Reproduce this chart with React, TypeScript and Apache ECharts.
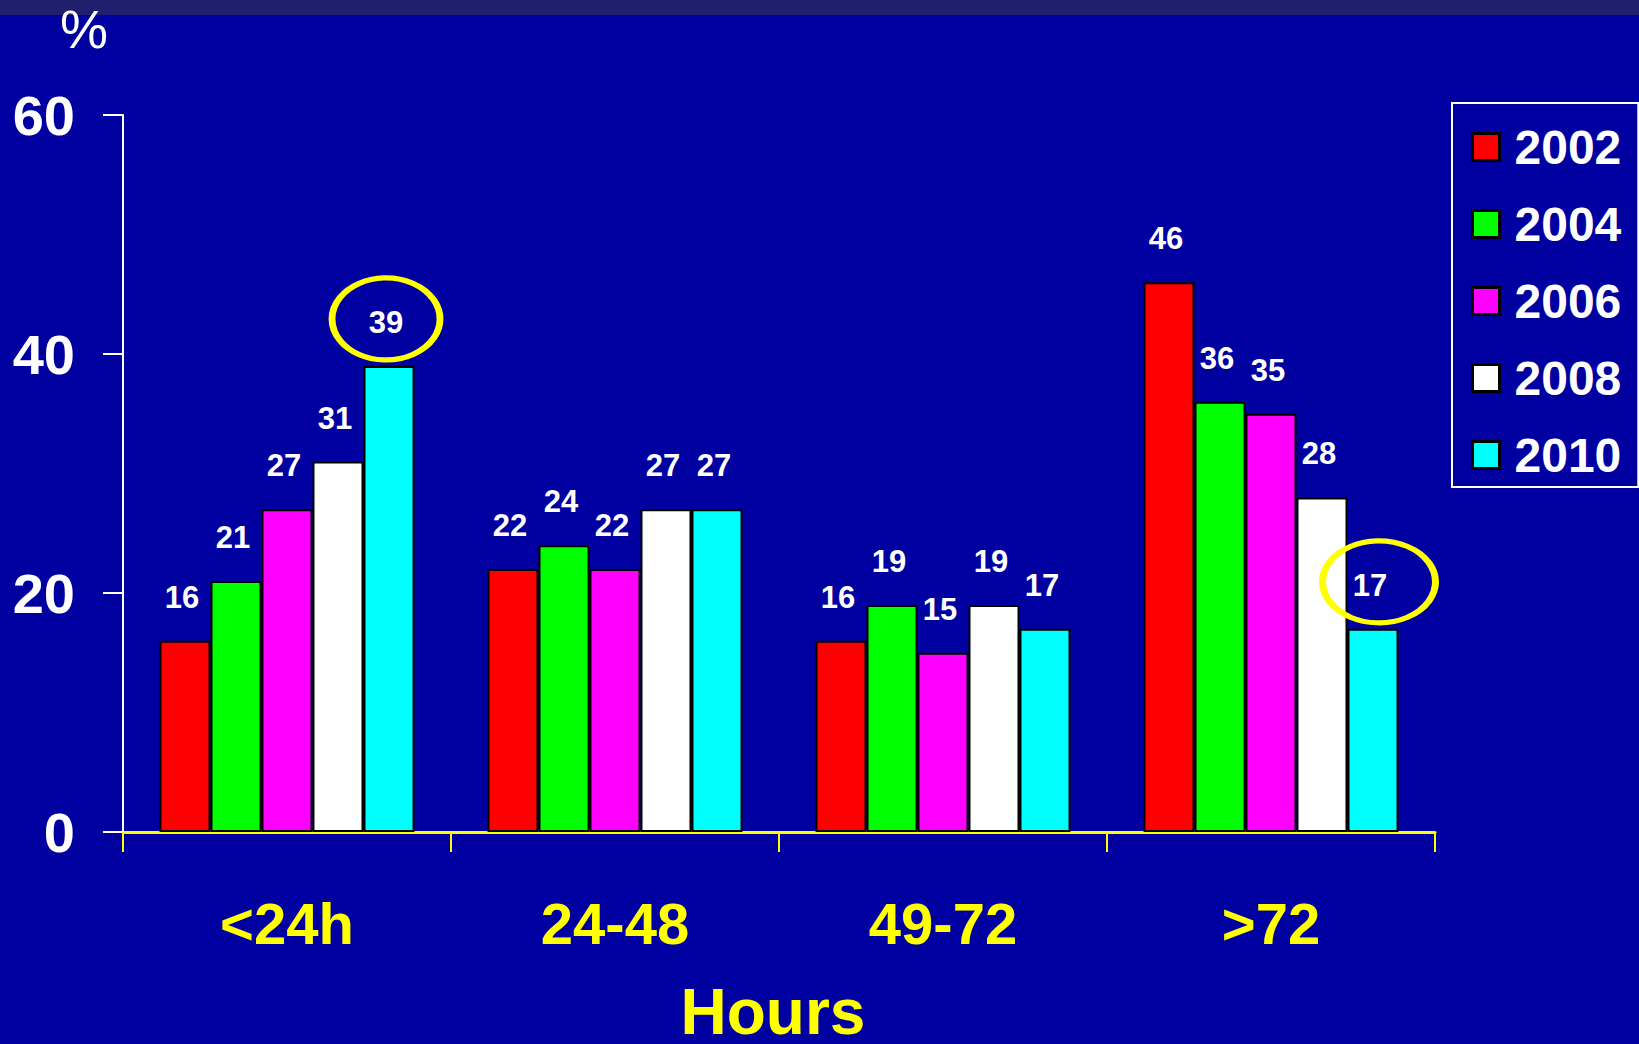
import React, { useEffect, useRef } from "react";
import * as echarts from "echarts";

// Share of cases by time window (hours), per survey year
const categories = ["<24h", "24-48", "49-72", ">72"];
const years = ["2002", "2004", "2006", "2008", "2010"];
const values2002 = [16, 22, 16, 46];
const values2004 = [21, 24, 19, 36];
const values2006 = [27, 22, 15, 35];
const values2008 = [31, 27, 19, 28];
const values2010 = [39, 27, 17, 17];
const seriesValues = [values2002, values2004, values2006, values2008, values2010];
const yTicks = [0, 20, 40, 60];
// 2010 values that get a highlight ring (category indexes)
const circled2010 = [0, 3];

const yearColors = ["#FF0000", "#00FF00", "#FF00FF", "#FFFFFF", "#00FFFF"];
const FONT = "'Liberation Sans', Arial, Helvetica, sans-serif";
const BG = "#0000A0";
const YELLOW = "#FFFF00";

export default function App() {
  const ref = useRef<HTMLDivElement>(null);

  useEffect(() => {
    document.body.style.margin = "0";
    if (!ref.current) return;
    const chart = echarts.init(ref.current, undefined, { renderer: "svg" });

    const ringStyle = [
      { symbolSize: [108, 82], symbolOffset: [-3, -47] },
      { symbolSize: [113, 82], symbolOffset: [6, -47] },
    ];

    const series = years.map((year, si) => ({
      name: year,
      type: "bar",
      data: seriesValues[si],
      barWidth: 51,
      barGap: "0%",
      itemStyle: { color: yearColors[si], borderColor: "#000000", borderWidth: 2 },
      label: {
        show: true,
        position: "top",
        distance: 28,
        offset: [-3, 0],
        color: "#FFFFFF",
        fontFamily: FONT,
        fontWeight: "bold",
        fontSize: 31,
      },
      markPoint:
        si === 4
          ? {
              symbol: "circle",
              label: { show: false },
              itemStyle: { color: "rgba(0,0,0,0)", borderColor: YELLOW, borderWidth: 6 },
              data: circled2010.map((ci, k) => ({
                coord: [categories[ci], values2010[ci]],
                symbolSize: ringStyle[k].symbolSize,
                symbolOffset: ringStyle[k].symbolOffset,
              })),
            }
          : undefined,
    }));

    chart.setOption({
      animation: false,
      backgroundColor: BG,
      grid: { left: 123, right: 204, top: 115, bottom: 212, outerBoundsMode: "none" },
      legend: {
        orient: "vertical",
        left: 1452,
        top: 103,
        padding: [20, 17, 8, 19],
        itemWidth: 27,
        itemHeight: 27,
        itemGap: 29,
        borderColor: "#FFFFFF",
        borderWidth: 2,
        icon: "rect",
        itemStyle: { borderColor: "#000000", borderWidth: 3 },
        textStyle: {
          color: "#FFFFFF",
          fontFamily: FONT,
          fontWeight: "bold",
          fontSize: 48,
          lineHeight: 48,
          padding: [0, 0, 0, 10],
        },
        data: years,
      },
      xAxis: {
        type: "category",
        data: categories,
        name: "Hours",
        nameLocation: "middle",
        nameGap: 148,
        nameTextStyle: {
          color: YELLOW,
          fontFamily: FONT,
          fontWeight: "bold",
          fontSize: 64,
          padding: [0, 12, 0, 0],
        },
        axisLine: { lineStyle: { color: YELLOW, width: 3 } },
        axisTick: { show: true, length: 20, lineStyle: { color: YELLOW, width: 2 } },
        axisLabel: {
          color: YELLOW,
          fontFamily: FONT,
          fontWeight: "bold",
          fontSize: 58,
          margin: 62,
        },
      },
      yAxis: {
        type: "value",
        min: yTicks[0],
        max: yTicks[yTicks.length - 1],
        interval: yTicks[1] - yTicks[0],
        axisLine: { show: true, lineStyle: { color: "#FFFFFF", width: 2 } },
        axisTick: { show: true, length: 20, lineStyle: { color: "#FFFFFF", width: 2 } },
        splitLine: { show: false },
        axisLabel: {
          color: "#FFFFFF",
          fontFamily: FONT,
          fontWeight: "bold",
          fontSize: 56,
          margin: 48,
        },
      },
      graphic: [
        {
          type: "rect",
          left: 0,
          top: 0,
          shape: { width: 1639, height: 15 },
          style: { fill: "#1F1F6E" },
        },
        {
          type: "text",
          left: 60,
          top: 2,
          style: {
            text: "%",
            fill: "#FFFFFF",
            font: `54px ${FONT}`,
          },
        },
      ],
      series,
    });

    return () => chart.dispose();
  }, []);

  return <div ref={ref} style={{ width: 1639, height: 1044 }} />;
}
